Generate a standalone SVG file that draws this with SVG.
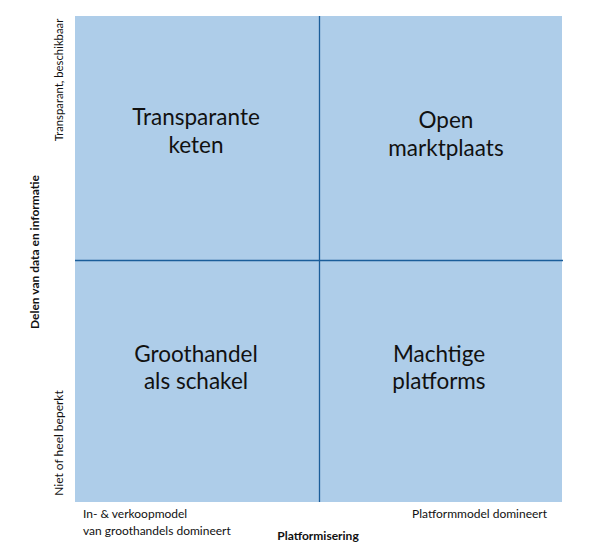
<svg xmlns="http://www.w3.org/2000/svg" width="589" height="559" viewBox="0 0 589 559">
<style>
text{font-family:Lato,"Open Sans","Liberation Sans",sans-serif;fill:#111}
.q{font-size:22.5px;text-anchor:middle}
.s{font-size:12px}
.b{font-size:12px;font-weight:bold}
.ax{stroke:#1B5E9A;stroke-width:1.3;fill:none}
</style>
<rect x="75" y="16" width="487" height="486" fill="#AECDE9"/>
<g id="connectors">
<line class="ax" x1="319.5" y1="16" x2="319.5" y2="502"/>
<line class="ax" x1="75" y1="260.5" x2="563" y2="260.5"/>
</g>
<g id="q1"><text class="q" x="196" y="125">Transparante</text><text class="q" x="196" y="153">keten</text></g>
<g id="q2"><text class="q" x="446" y="128">Open</text><text class="q" x="446" y="156">marktplaats</text></g>
<g id="q3"><text class="q" x="196" y="362">Groothandel</text><text class="q" x="196" y="389">als schakel</text></g>
<g id="q4"><text class="q" x="439" y="362">Machtige</text><text class="q" x="439" y="389">platforms</text></g>
<g id="labels">
<text class="b" transform="translate(39,252) rotate(-90)" text-anchor="middle">Delen van data en informatie</text>
<text class="s" style="font-size:11.3px" transform="translate(63,80) rotate(-90)" text-anchor="middle">Transparant, beschikbaar</text>
<text class="s" transform="translate(63,443) rotate(-90)" text-anchor="middle">Niet of heel beperkt</text>
<text class="s" x="83" y="518">In- &amp; verkoopmodel</text>
<text class="s" x="83" y="535">van groothandels domineert</text>
<text class="b" x="318" y="540" text-anchor="middle">Platformisering</text>
<text class="s" x="547" y="518" text-anchor="end">Platformmodel domineert</text>
</g>
</svg>
